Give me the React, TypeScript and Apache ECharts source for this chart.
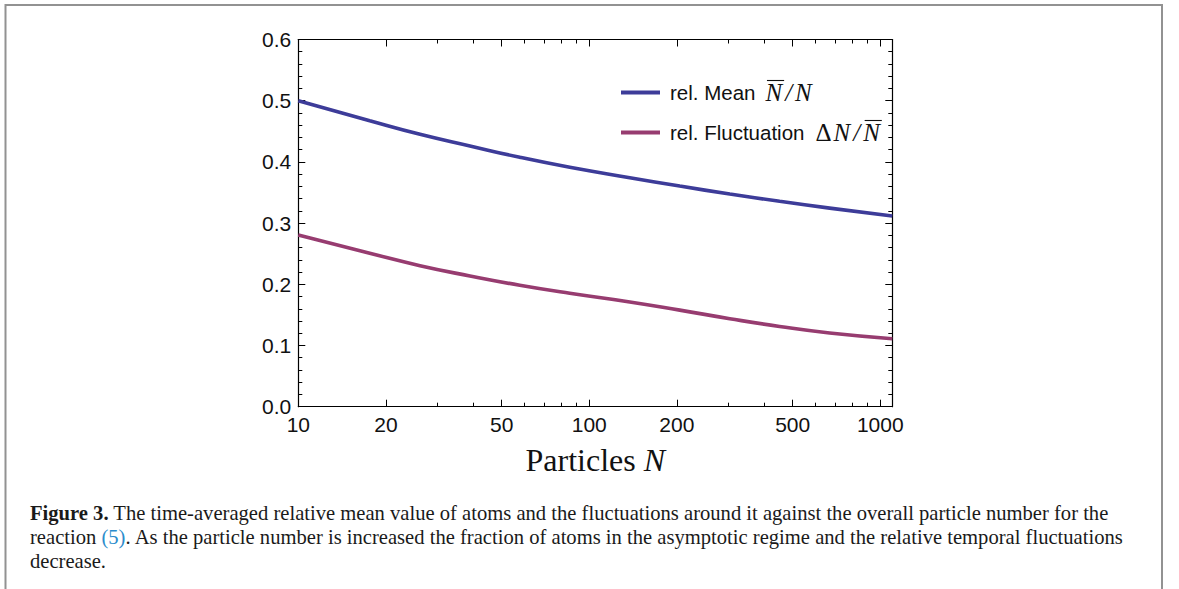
import React, { useEffect, useRef } from "react";
import * as echarts from "echarts";

// ---- data ----
const particleN = [10, 17.6, 26.2, 38.9, 57.7, 85.7, 137.8, 204.6, 304, 451, 670, 1100];
const relMean = [0.5, 0.4673, 0.4451, 0.426, 0.4075, 0.3912, 0.3742, 0.3605, 0.3476, 0.3356, 0.3245, 0.3115];
const relFluct = [0.2806, 0.2507, 0.2304, 0.2136, 0.1984, 0.1853, 0.1712, 0.1578, 0.1438, 0.1311, 0.1204, 0.1111];
const xMajorTicks = [10, 20, 50, 100, 200, 500, 1000];
const xMinorTicks = [30, 40, 60, 70, 80, 90, 300, 400, 600, 700, 800, 900];
const xMin = 10;
const xMax = 1100;
const yMin = 0;
const yMax = 0.6;
const yStep = 0.1;
const seriesNames = ["rel. Mean", "rel. Fluctuation"];
const captionLines = [
  "{b|Figure 3.} The time-averaged relative mean value of atoms and the fluctuations around it against the overall particle number for the",
  "reaction {l|(5)}. As the particle number is increased the fraction of atoms in the asymptotic regime and the relative temporal fluctuations",
  "decrease.",
];

const meanColor = "#3d3c99";
const fluctColor = "#973c70";
const SANS = "'Liberation Sans', Arial, sans-serif";
const SERIF = "'Liberation Serif', 'Times New Roman', serif";

const measure = (text: string, font: string) => {
  const ctx = document.createElement("canvas").getContext("2d");
  if (!ctx) return text.length * 10;
  ctx.font = font;
  return ctx.measureText(text).width;
};

const lg = (v: number) => Math.log10(v);

export default function App() {
  const ref = useRef<HTMLDivElement>(null);

  useEffect(() => {
    if (!ref.current) return;
    const chart = echarts.init(ref.current, undefined, { renderer: "svg" });

    const labelFont = 21;
    const legendFont = 20.5;
    const mathFont = 25;
    const sansFont = `${legendFont}px ${SANS}`;
    const mathItalic = `italic ${mathFont}px ${SERIF}`;
    const mathUpright = `${mathFont}px ${SERIF}`;
    const ink = "#111";

    const txt = (text: string, x: number, y: number, font: string) => ({
      type: "text",
      style: { text, x, y, font, fill: ink, align: "left", verticalAlign: "middle", textAlign: "left", textVerticalAlign: "middle" },
    });
    const overline = (x1: number, x2: number, y: number) => ({
      type: "line",
      shape: { x1, y1: y, x2, y2: y },
      style: { stroke: ink, lineWidth: 1.1 },
    });

    // ---- legend (graphic) ----
    const legendLineX = 621;
    const legendLineLen = 39;
    const legendTextX = 670;
    const rowY = [92.5, 132.5];
    const legendEls: any[] = [];
    const nW = measure("N", mathItalic);
    const slashW = measure("/", mathItalic);
    const slashGap = 3;

    // row 1: rel. Mean  N̄/N
    {
      const y = rowY[0];
      legendEls.push({
        type: "line",
        shape: { x1: legendLineX, y1: y, x2: legendLineX + legendLineLen, y2: y },
        style: { stroke: meanColor, lineWidth: 4 },
      });
      legendEls.push(txt(seriesNames[0], legendTextX, y, sansFont));
      const mx = legendTextX + measure(seriesNames[0], sansFont) + 10;
      legendEls.push(txt("N", mx, y, mathItalic));
      legendEls.push(overline(mx + 1.5, mx + nW + 2, y - 12));
      const sx = mx + nW + slashGap;
      legendEls.push(txt("/", sx, y, mathItalic));
      legendEls.push(txt("N", sx + slashW + slashGap, y, mathItalic));
    }
    // row 2: rel. Fluctuation ΔN/N̄
    {
      const y = rowY[1];
      legendEls.push({
        type: "line",
        shape: { x1: legendLineX, y1: y, x2: legendLineX + legendLineLen, y2: y },
        style: { stroke: fluctColor, lineWidth: 4 },
      });
      legendEls.push(txt(seriesNames[1], legendTextX, y, sansFont));
      const dx = legendTextX + measure(seriesNames[1], sansFont) + 11;
      legendEls.push(txt("\u0394", dx, y, mathUpright));
      const mx = dx + measure("\u0394", mathUpright) + 2;
      legendEls.push(txt("N", mx, y, mathItalic));
      const sx = mx + nW + slashGap;
      legendEls.push(txt("/", sx, y, mathItalic));
      const n2 = sx + slashW + slashGap;
      legendEls.push(txt("N", n2, y, mathItalic));
      legendEls.push(overline(n2 + 1.5, n2 + nW + 2, y - 12));
    }

    // ---- caption (graphic) ----
    const capSize = 20.6;
    const captionEls = captionLines.map((t, i) => ({
      type: "text",
      style: {
        text: t,
        x: 30,
        y: 513 + i * 24,
        fontFamily: SERIF,
        fontSize: capSize,
        fill: "#1a1a1a",
        align: "left",
        verticalAlign: "middle",
        textAlign: "left",
        textVerticalAlign: "middle",
        rich: {
          b: { fontFamily: SERIF, fontSize: capSize, fontWeight: "bold", fill: "#1a1a1a" },
          l: { fontFamily: SERIF, fontSize: capSize, fill: "#2b8ccc" },
        },
      },
    }));

    const frame = {
      type: "rect",
      shape: { x: 5.5, y: 5, width: 1156.5, height: 700 },
      style: { fill: "none", stroke: "#929292", lineWidth: 2 },
      silent: true,
    };

    const axisLine = { show: true, lineStyle: { color: "#000", width: 1.2 } };
    const lMin = lg(xMin);
    const lMax = lg(xMax);
    const majorVals = xMajorTicks.map(lg);
    const minorVals = xMinorTicks.map(lg);

    const tickAxis = (position: "bottom" | "top", values: number[], len: number, withLine: boolean, withLabels: boolean) => ({
      type: "value",
      gridIndex: 0,
      position,
      min: lMin,
      max: lMax,
      axisLine: withLine ? axisLine : { show: false },
      axisTick: { show: true, inside: true, length: len, customValues: values, lineStyle: { color: "#000", width: 1 } },
      axisLabel: withLabels
        ? {
            show: true,
            customValues: values,
            margin: 7,
            fontFamily: SANS,
            fontSize: labelFont,
            color: ink,
            formatter: (v: number) => String(Math.round(Math.pow(10, v))),
          }
        : { show: false },
      splitLine: { show: false },
    });

    const yAxisCfg = (position: "left" | "right", withLabels: boolean) => ({
      type: "value",
      position,
      min: yMin,
      max: yMax,
      interval: yStep,
      axisLine,
      axisTick: { show: true, inside: true, length: 7, lineStyle: { color: "#000", width: 1 } },
      minorTick: { show: true, splitNumber: 5, length: 4, lineStyle: { color: "#000", width: 1 } },
      axisLabel: withLabels
        ? { show: true, margin: 7, fontFamily: SANS, fontSize: labelFont, color: ink, formatter: (v: number) => v.toFixed(1) }
        : { show: false },
      splitLine: { show: false },
      minorSplitLine: { show: false },
    });

    const xLabelAxis: any = tickAxis("bottom", majorVals, 7, true, true);
    xLabelAxis.name = "{a|Particles }{b|N}";
    xLabelAxis.nameLocation = "middle";
    xLabelAxis.nameGap = 37;
    xLabelAxis.nameTextStyle = {
      fontFamily: SERIF,
      fontSize: 32,
      color: ink,
      rich: {
        a: { fontFamily: SERIF, fontSize: 32, color: ink },
        b: { fontFamily: SERIF, fontSize: 32, fontStyle: "italic", color: ink },
      },
    };

    chart.setOption({
      animation: false,
      backgroundColor: "#fff",
      grid: { left: 298.3, top: 39.5, width: 594, height: 367.2, containLabel: false },
      xAxis: [
        { type: "log", logBase: 10, min: xMin, max: xMax, show: false, gridIndex: 0 },
        xLabelAxis,
        tickAxis("bottom", minorVals, 4, false, false),
        tickAxis("top", majorVals, 7, true, false),
        tickAxis("top", minorVals, 4, false, false),
      ],
      yAxis: [yAxisCfg("left", true), yAxisCfg("right", false)],
      series: [
        {
          name: seriesNames[0],
          type: "line",
          xAxisIndex: 0,
          yAxisIndex: 0,
          data: particleN.map((n, i) => [n, relMean[i]]),
          showSymbol: false,
          smooth: true,
          lineStyle: { color: meanColor, width: 3.6 },
          itemStyle: { color: meanColor },
        },
        {
          name: seriesNames[1],
          type: "line",
          xAxisIndex: 0,
          yAxisIndex: 0,
          data: particleN.map((n, i) => [n, relFluct[i]]),
          showSymbol: false,
          smooth: true,
          lineStyle: { color: fluctColor, width: 3.6 },
          itemStyle: { color: fluctColor },
        },
      ],
      graphic: [frame, ...legendEls, ...captionEls],
    });

    return () => chart.dispose();
  }, []);

  return (
    <div
      ref={ref}
      style={{ position: "fixed", left: 0, top: 0, width: 1179, height: 589, background: "#fff" }}
    />
  );
}
